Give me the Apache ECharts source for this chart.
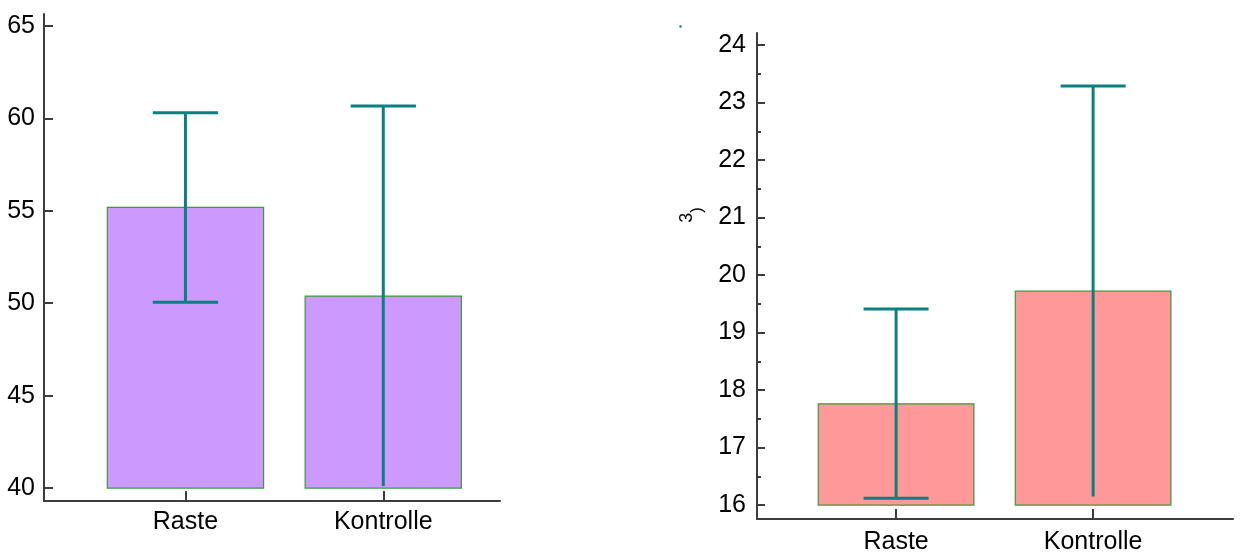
<!DOCTYPE html>
<html>
<head>
<meta charset="utf-8">
<script src="https://cdn.jsdelivr.net/npm/echarts@6/dist/echarts.min.js"></script>
<style>
html,body{margin:0;padding:0;background:#fff;}
#c{width:1241px;height:555px;}
</style>
</head>
<body>
<div id="c"></div>
<script>
// ---- data ----
const categories = ['Raste', 'Kontrolle'];
const categoryPos = [1, 2];

const leftMeans = [55.19, 50.39];
const leftUpper = [60.31, 60.67];
const leftLower = [50.06, 40.11];
const leftBase = 40;
const leftTicks = [40, 45, 50, 55, 60, 65];

const rightMeans = [17.76, 19.72];
const rightUpper = [19.41, 23.29];
const rightLower = [16.12, 16.15];
const rightBase = 16;
const rightTicks = [16, 17, 18, 19, 20, 21, 22, 23, 24];
const rightMinorTicks = [16.5, 17.5, 18.5, 19.5, 20.5, 21.5, 22.5, 23.5];

const lowerCapShown = [1, 0];
const rightAxisNameSup = '3';
const rightAxisNameEnd = ')';

// ---- styling ----
const FONT = "'Liberation Sans Narrow', 'Arial Narrow', 'Liberation Sans', Arial, sans-serif";
const AX = '#3c3c3c';
const ERR = '#0a8080';
const EDGE = '#3a9a3a';
const BAR_W = 0.79;
const CAP_W = 0.33;
const FS = 25;

function barRender(fill) {
  return function (params, api) {
    const x = api.value(0), v = api.value(1), b = api.value(2);
    const p0 = api.coord([x - BAR_W / 2, v]);
    const p1 = api.coord([x + BAR_W / 2, b]);
    return {
      type: 'rect',
      shape: { x: p0[0], y: p0[1], width: p1[0] - p0[0], height: p1[1] - p0[1] },
      style: { fill: fill, stroke: EDGE, lineWidth: 1.2 }
    };
  };
}
function errRender(params, api) {
  const x = api.value(0), lo = api.value(1), hi = api.value(2), capLo = api.value(3);
  const top = api.coord([x, hi]);
  const bot = api.coord([x, lo]);
  const cl = api.coord([x - CAP_W / 2, hi]);
  const cr = api.coord([x + CAP_W / 2, hi]);
  const children = [
    { type: 'line', shape: { x1: top[0], y1: top[1], x2: bot[0], y2: bot[1] }, style: { stroke: ERR, lineWidth: 3 } },
    { type: 'line', shape: { x1: cl[0], y1: cl[1], x2: cr[0], y2: cr[1] }, style: { stroke: ERR, lineWidth: 3 } }
  ];
  if (capLo) {
    const bl = api.coord([x - CAP_W / 2, lo]);
    const br = api.coord([x + CAP_W / 2, lo]);
    children.push({ type: 'line', shape: { x1: bl[0], y1: bl[1], x2: br[0], y2: br[1] }, style: { stroke: ERR, lineWidth: 3 } });
  }
  return { type: 'group', children: children };
}

function xAxisCfg(gi, min, max, margin) {
  return {
    type: 'value', gridIndex: gi, min: min, max: max,
    axisLine: { onZero: false, lineStyle: { color: AX, width: 2 } },
    axisTick: { customValues: categoryPos, inside: true, length: 10, lineStyle: { color: AX, width: 2 } },
    axisLabel: {
      customValues: categoryPos, margin: margin,
      formatter: v => categories[categoryPos.indexOf(Math.round(v))] || '',
      color: '#000', fontSize: FS, fontFamily: FONT
    },
    splitLine: { show: false }
  };
}
function yAxisCfg(gi, min, max, ticks, tickLen, margin) {
  return {
    type: 'value', gridIndex: gi, min: min, max: max, position: 'left',
    axisLine: { show: true, onZero: false, lineStyle: { color: AX, width: 2 } },
    axisTick: { show: true, customValues: ticks, inside: true, length: tickLen, lineStyle: { color: AX, width: 2 } },
    axisLabel: { customValues: ticks, margin: margin, color: '#000', fontSize: FS, fontFamily: FONT },
    splitLine: { show: false }
  };
}

const chart = echarts.init(document.getElementById('c'), null, { renderer: 'canvas' });
chart.setOption({
  animation: false,
  backgroundColor: '#fff',
  grid: [
    { left: 44, top: 14, width: 456, height: 487 },
    { left: 757, top: 33, width: 476, height: 486 }
  ],
  xAxis: [
    xAxisCfg(0, 0.285, 2.59, 9),
    xAxisCfg(1, 0.294, 2.71, 11)
  ],
  yAxis: [
    yAxisCfg(0, 39.3, 65.65, leftTicks, 9, 9),
    yAxisCfg(1, 15.757, 24.21, rightTicks, 8, 11),
    {
      type: 'value', gridIndex: 1, min: 15.757, max: 24.21, position: 'left',
      axisLine: { show: false, onZero: false },
      axisTick: { show: true, customValues: rightMinorTicks, inside: true, length: 4, lineStyle: { color: AX, width: 2 } },
      axisLabel: { show: false },
      splitLine: { show: false }
    }
  ],
  series: [
    {
      type: 'custom', xAxisIndex: 0, yAxisIndex: 0, renderItem: barRender('#cc99ff'),
      data: categoryPos.map((x, i) => [x, leftMeans[i], leftBase]), z: 2
    },
    {
      type: 'custom', xAxisIndex: 0, yAxisIndex: 0, renderItem: errRender,
      data: categoryPos.map((x, i) => [x, leftLower[i], leftUpper[i], lowerCapShown[i]]), z: 3
    },
    {
      type: 'custom', xAxisIndex: 1, yAxisIndex: 1, renderItem: barRender('#ff9999'),
      data: categoryPos.map((x, i) => [x, rightMeans[i], rightBase]), z: 2
    },
    {
      type: 'custom', xAxisIndex: 1, yAxisIndex: 1, renderItem: errRender,
      data: categoryPos.map((x, i) => [x, rightLower[i], rightUpper[i], lowerCapShown[i]]), z: 3
    }
  ],
  graphic: [
    { type: 'circle', shape: { cx: 680.5, cy: 26.5, r: 1.2 }, style: { fill: ERR } },
    {
      type: 'text', x: 692, y: 215, rotation: Math.PI / 2,
      style: {
        text: '{s|' + rightAxisNameSup + '}{p|' + rightAxisNameEnd + '}',
        align: 'center', verticalAlign: 'middle',
        rich: {
          s: { fontSize: 18, fontFamily: FONT, fill: '#000', verticalAlign: 'top', lineHeight: 28 },
          p: { fontSize: 17, fontFamily: FONT, fill: '#000', verticalAlign: 'bottom', lineHeight: 28 }
        }
      }
    }
  ]
});
</script>
</body>
</html>
